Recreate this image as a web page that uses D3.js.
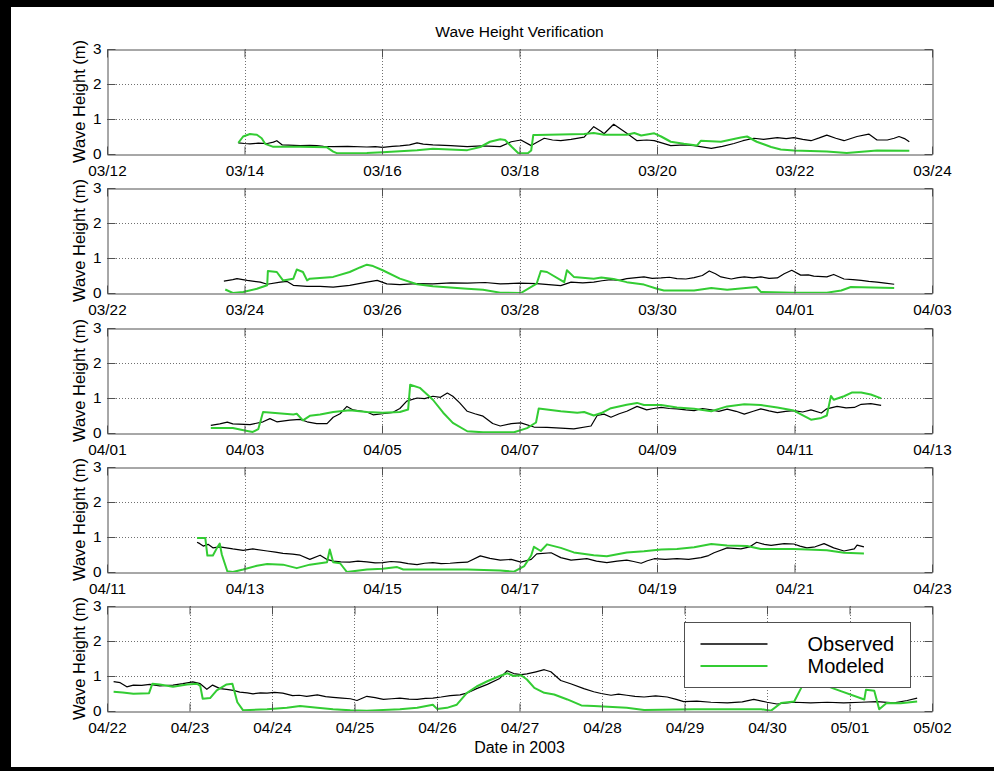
<!DOCTYPE html>
<html>
<head>
<meta charset="utf-8">
<script src="https://cdn.jsdelivr.net/npm/d3@7"></script>
<style>
  html, body { margin: 0; padding: 0; background: #fff; }
  svg { display: block; }
  text { font-family: "Liberation Sans", Arial, Helvetica, sans-serif; fill: #000; }
</style>
</head>
<body>
<svg id="chart" width="994" height="771"></svg>
<script>
// Time values are fractional days counted from 2003-03-01 00:00 UTC.
const panelStarts = ["2003-03-12", "2003-03-22", "2003-04-01", "2003-04-11", "2003-04-22"];
const panelEnds   = ["2003-03-24", "2003-04-03", "2003-04-13", "2003-04-23", "2003-05-02"];
const tickStepDays = [2, 2, 2, 2, 1];
const yTicks = [0, 1, 2, 3];
const seriesNames = ["Observed", "Modeled"];

const observed1 = [[12.91,0.32],[13.00,0.30],[13.08,0.29],[13.20,0.31],[13.33,0.30],[13.42,0.34],[13.47,0.38],[13.55,0.26],[13.81,0.24],[13.95,0.25],[14.05,0.24],[14.15,0.22],[14.29,0.21],[14.50,0.22],[14.78,0.20],[14.90,0.21],[15.01,0.19],[15.15,0.22],[15.26,0.23],[15.40,0.26],[15.51,0.32],[15.60,0.28],[15.74,0.26],[16.00,0.24],[16.24,0.21],[16.45,0.23],[16.72,0.21],[16.88,0.35],[17.02,0.40],[17.17,0.24],[17.36,0.45],[17.48,0.40],[17.60,0.38],[17.75,0.42],[17.94,0.48],[18.08,0.78],[18.19,0.64],[18.23,0.58],[18.37,0.85],[18.56,0.59],[18.71,0.38],[18.85,0.40],[18.96,0.38],[19.20,0.24],[19.40,0.26],[19.54,0.24],[19.79,0.16],[19.95,0.22],[20.12,0.30],[20.25,0.38],[20.41,0.45],[20.55,0.42],[20.75,0.47],[20.88,0.44],[20.99,0.47],[21.12,0.42],[21.24,0.38],[21.36,0.46],[21.47,0.54],[21.60,0.45],[21.72,0.38],[21.91,0.50],[22.08,0.57],[22.20,0.40],[22.35,0.40],[22.45,0.45],[22.52,0.50],[22.60,0.44],[22.67,0.35]];
const modeled1 = [[12.91,0.32],[12.98,0.50],[13.08,0.57],[13.18,0.55],[13.25,0.45],[13.30,0.29],[13.41,0.21],[13.81,0.21],[14.20,0.19],[14.29,0.07],[14.35,0.02],[14.78,0.03],[15.01,0.05],[15.51,0.11],[15.74,0.15],[16.24,0.11],[16.43,0.20],[16.57,0.35],[16.72,0.42],[16.79,0.40],[16.89,0.20],[16.98,0.03],[17.12,0.02],[17.17,0.10],[17.20,0.54],[17.25,0.54],[17.94,0.57],[18.08,0.60],[18.23,0.55],[18.56,0.55],[18.67,0.60],[18.77,0.53],[18.96,0.59],[19.06,0.50],[19.20,0.35],[19.39,0.29],[19.58,0.24],[19.64,0.38],[19.93,0.35],[20.22,0.47],[20.31,0.50],[20.45,0.35],[20.66,0.20],[20.80,0.13],[20.99,0.10],[21.47,0.07],[21.76,0.03],[22.20,0.10],[22.67,0.09]];

const observed2 = [[22.70,0.34],[22.83,0.38],[22.89,0.41],[23.04,0.36],[23.23,0.31],[23.33,0.25],[23.52,0.31],[23.62,0.33],[23.71,0.22],[23.91,0.19],[24.10,0.19],[24.29,0.17],[24.53,0.22],[24.78,0.31],[24.93,0.36],[25.07,0.26],[25.26,0.24],[25.50,0.27],[25.74,0.26],[26.00,0.29],[26.24,0.28],[26.50,0.30],[26.72,0.26],[27.00,0.28],[27.25,0.27],[27.60,0.21],[27.75,0.31],[27.92,0.29],[28.08,0.31],[28.20,0.35],[28.33,0.38],[28.45,0.36],[28.56,0.41],[28.70,0.44],[28.81,0.46],[28.93,0.42],[29.06,0.43],[29.18,0.45],[29.29,0.41],[29.42,0.40],[29.54,0.44],[29.66,0.50],[29.76,0.63],[29.85,0.55],[29.93,0.46],[30.08,0.40],[30.18,0.44],[30.27,0.46],[30.40,0.43],[30.51,0.46],[30.63,0.42],[30.75,0.43],[30.85,0.55],[30.96,0.65],[31.09,0.51],[31.20,0.52],[31.28,0.48],[31.47,0.46],[31.57,0.53],[31.72,0.40],[31.85,0.38],[31.97,0.36],[32.08,0.33],[32.20,0.31],[32.32,0.28],[32.45,0.25]];
const modeled2 = [[22.72,0.10],[22.83,0.00],[22.98,0.03],[23.18,0.12],[23.33,0.22],[23.34,0.63],[23.47,0.60],[23.56,0.36],[23.71,0.41],[23.76,0.67],[23.85,0.60],[23.91,0.36],[23.95,0.41],[24.29,0.46],[24.53,0.60],[24.68,0.73],[24.78,0.81],[24.87,0.77],[25.01,0.65],[25.26,0.41],[25.51,0.25],[25.74,0.19],[26.24,0.12],[26.47,0.09],[26.72,0.01],[27.02,0.00],[27.25,0.27],[27.31,0.63],[27.40,0.60],[27.65,0.31],[27.69,0.65],[27.79,0.46],[28.08,0.41],[28.19,0.44],[28.37,0.40],[28.56,0.31],[28.81,0.24],[29.00,0.12],[29.10,0.07],[29.54,0.07],[29.79,0.14],[30.02,0.09],[30.45,0.17],[30.51,0.03],[30.99,0.01],[31.47,0.01],[31.68,0.07],[31.82,0.17],[32.45,0.14]];

const observed3 = [[32.51,0.22],[32.64,0.26],[32.75,0.31],[32.83,0.26],[33.08,0.24],[33.27,0.32],[33.37,0.41],[33.47,0.32],[33.66,0.37],[33.81,0.39],[33.91,0.32],[34.05,0.27],[34.20,0.27],[34.29,0.45],[34.39,0.55],[34.49,0.76],[34.58,0.66],[34.78,0.60],[34.87,0.52],[35.01,0.55],[35.16,0.59],[35.26,0.70],[35.36,0.91],[35.51,1.00],[35.62,0.98],[35.74,1.05],[35.85,1.02],[35.95,1.14],[36.03,1.05],[36.13,0.86],[36.24,0.62],[36.35,0.55],[36.47,0.48],[36.61,0.27],[36.72,0.20],[36.88,0.27],[37.02,0.29],[37.21,0.17],[37.40,0.16],[37.60,0.14],[37.79,0.12],[38.04,0.20],[38.13,0.50],[38.23,0.54],[38.33,0.45],[38.45,0.55],[38.56,0.62],[38.71,0.76],[38.85,0.66],[38.95,0.70],[39.06,0.73],[39.18,0.70],[39.29,0.69],[39.42,0.66],[39.54,0.64],[39.66,0.70],[39.79,0.66],[39.90,0.62],[40.02,0.68],[40.15,0.62],[40.27,0.54],[40.40,0.62],[40.51,0.69],[40.63,0.63],[40.75,0.58],[40.87,0.62],[40.99,0.64],[41.12,0.60],[41.24,0.66],[41.39,0.57],[41.47,0.69],[41.62,0.76],[41.75,0.72],[41.87,0.73],[41.97,0.82],[42.11,0.84],[42.26,0.79]];
const modeled3 = [[32.51,0.14],[32.83,0.14],[33.04,0.06],[33.12,0.03],[33.20,0.11],[33.27,0.60],[33.71,0.53],[33.76,0.55],[33.85,0.36],[33.95,0.49],[34.10,0.53],[34.29,0.60],[34.53,0.65],[34.78,0.60],[35.01,0.58],[35.26,0.60],[35.38,0.67],[35.41,1.38],[35.55,1.29],[35.74,0.95],[35.89,0.58],[36.03,0.29],[36.24,0.05],[36.47,0.02],[36.72,0.02],[36.92,0.02],[37.11,0.14],[37.24,0.30],[37.28,0.70],[37.60,0.62],[37.84,0.58],[37.94,0.60],[38.08,0.50],[38.19,0.57],[38.33,0.71],[38.56,0.81],[38.71,0.86],[38.81,0.80],[39.06,0.80],[39.29,0.73],[39.54,0.69],[39.79,0.62],[40.02,0.76],[40.27,0.82],[40.51,0.80],[40.75,0.73],[40.99,0.64],[41.24,0.38],[41.39,0.43],[41.47,0.50],[41.53,1.06],[41.57,0.95],[41.72,1.05],[41.84,1.16],[41.97,1.16],[42.11,1.10],[42.26,0.99]];

const observed4 = [[42.31,0.85],[42.35,0.81],[42.40,0.74],[42.47,0.79],[42.54,0.69],[42.64,0.72],[42.83,0.66],[42.98,0.62],[43.12,0.66],[43.33,0.60],[43.45,0.57],[43.56,0.53],[43.70,0.51],[43.81,0.48],[43.95,0.36],[44.10,0.48],[44.20,0.36],[44.29,0.31],[44.40,0.29],[44.53,0.28],[44.65,0.31],[44.78,0.29],[44.90,0.26],[45.01,0.27],[45.13,0.30],[45.26,0.28],[45.38,0.24],[45.51,0.21],[45.62,0.25],[45.74,0.27],[45.86,0.24],[45.99,0.25],[46.10,0.27],[46.24,0.28],[46.43,0.46],[46.57,0.39],[46.72,0.34],[46.88,0.36],[47.02,0.28],[47.17,0.36],[47.25,0.52],[47.46,0.55],[47.60,0.41],[47.75,0.34],[47.87,0.36],[47.98,0.38],[48.12,0.31],[48.27,0.27],[48.42,0.31],[48.56,0.34],[48.66,0.30],[48.77,0.25],[48.86,0.32],[48.96,0.38],[49.12,0.36],[49.29,0.38],[49.46,0.36],[49.64,0.41],[49.75,0.47],[49.83,0.55],[50.02,0.69],[50.22,0.66],[50.35,0.72],[50.45,0.85],[50.56,0.79],[50.66,0.76],[50.85,0.81],[50.99,0.80],[51.08,0.74],[51.18,0.69],[51.30,0.72],[51.43,0.81],[51.57,0.69],[51.72,0.60],[51.87,0.66],[51.91,0.77],[52.01,0.72]];
const modeled4 = [[42.31,0.97],[42.43,0.97],[42.46,0.47],[42.54,0.47],[42.60,0.69],[42.64,0.81],[42.67,0.50],[42.75,0.02],[42.83,0.00],[42.98,0.07],[43.18,0.18],[43.33,0.23],[43.56,0.21],[43.76,0.11],[43.95,0.21],[44.20,0.28],[44.24,0.64],[44.29,0.28],[44.39,0.25],[44.49,0.00],[44.78,0.07],[45.01,0.09],[45.22,0.14],[45.31,0.07],[45.74,0.07],[46.24,0.07],[46.72,0.04],[46.92,0.01],[47.07,0.17],[47.17,0.47],[47.21,0.72],[47.31,0.60],[47.40,0.79],[47.60,0.69],[47.79,0.56],[48.08,0.48],[48.27,0.45],[48.56,0.56],[48.81,0.59],[49.06,0.64],[49.29,0.66],[49.54,0.71],[49.79,0.80],[50.02,0.76],[50.31,0.74],[50.51,0.66],[50.99,0.66],[51.47,0.62],[51.72,0.55],[52.01,0.53]];

const observed5 = [[52.08,0.84],[52.16,0.81],[52.24,0.69],[52.32,0.74],[52.42,0.73],[52.52,0.76],[52.64,0.72],[52.80,0.74],[52.92,0.78],[53.04,0.83],[53.13,0.78],[53.21,0.62],[53.28,0.74],[53.37,0.64],[53.45,0.62],[53.53,0.59],[53.61,0.54],[53.70,0.52],[53.77,0.49],[53.86,0.52],[53.94,0.51],[54.03,0.53],[54.13,0.51],[54.25,0.44],[54.33,0.45],[54.42,0.42],[54.55,0.46],[54.65,0.41],[54.74,0.39],[54.85,0.37],[54.95,0.35],[55.03,0.30],[55.15,0.42],[55.25,0.38],[55.35,0.33],[55.45,0.35],[55.55,0.37],[55.66,0.34],[55.76,0.33],[55.86,0.36],[55.95,0.37],[56.05,0.40],[56.16,0.44],[56.28,0.46],[56.36,0.51],[56.48,0.64],[56.61,0.76],[56.76,0.93],[56.85,1.15],[56.93,1.07],[57.02,1.04],[57.09,1.06],[57.20,1.12],[57.30,1.18],[57.38,1.12],[57.50,0.87],[57.62,0.78],[57.78,0.64],[57.90,0.55],[57.99,0.50],[58.11,0.45],[58.20,0.48],[58.30,0.45],[58.40,0.42],[58.51,0.40],[58.65,0.43],[58.79,0.40],[58.90,0.33],[58.99,0.27],[59.15,0.28],[59.32,0.25],[59.52,0.23],[59.70,0.26],[59.84,0.33],[60.00,0.25],[60.12,0.20],[60.33,0.25],[60.53,0.23],[60.73,0.25],[60.93,0.23],[61.14,0.25],[61.33,0.27],[61.54,0.23],[61.70,0.30],[61.82,0.37]];
const modeled5 = [[52.08,0.55],[52.19,0.53],[52.32,0.49],[52.51,0.51],[52.55,0.78],[52.64,0.76],[52.80,0.69],[52.97,0.76],[53.09,0.78],[53.13,0.72],[53.16,0.35],[53.25,0.37],[53.33,0.59],[53.45,0.76],[53.52,0.78],[53.58,0.25],[53.65,0.02],[53.94,0.05],[54.18,0.09],[54.34,0.14],[54.55,0.09],[54.74,0.05],[54.95,0.02],[55.15,0.01],[55.55,0.05],[55.76,0.09],[55.95,0.18],[56.00,0.06],[56.12,0.09],[56.24,0.18],[56.36,0.51],[56.48,0.70],[56.61,0.85],[56.76,1.00],[56.85,1.08],[56.93,1.00],[57.02,1.02],[57.09,0.90],[57.18,0.66],[57.30,0.52],[57.42,0.47],[57.58,0.33],[57.75,0.16],[57.90,0.14],[58.30,0.09],[58.51,0.03],[59.12,0.05],[59.52,0.05],[59.93,0.05],[60.05,0.01],[60.17,0.23],[60.33,0.27],[60.41,0.64],[60.47,0.95],[60.58,0.85],[60.81,0.64],[61.18,0.33],[61.20,0.61],[61.30,0.58],[61.36,0.05],[61.45,0.23],[61.62,0.22],[61.82,0.27]];

const observedSeries = [observed1, observed2, observed3, observed4, observed5];
const modeledSeries  = [modeled1, modeled2, modeled3, modeled4, modeled5];

// Layout
const W = 994, H = 771;
const plotLeft = 107, plotRight = 932;
const firstTop = 49, panelStep = 139.25, panelH = 105;
const axisColor = "#505050", gridColor = "#707070";
const obsColor = "#000000", modColor = "#33cc33";
const tickLen = 8;

const DAY0 = Date.UTC(2003, 2, 1);
const toDate = d => new Date(DAY0 + d * 864e5);
const parseDay = s => d3.utcParse("%Y-%m-%d")(s);
const fmt = d3.utcFormat("%m/%d");

const svg = d3.select("#chart");
svg.append("rect").attr("width", W).attr("height", H).attr("fill", "#fff");

// Black frame along the left, top and bottom edges
svg.append("rect").attr("x", 0).attr("y", 0).attr("width", 11).attr("height", H).attr("fill", "#000");
svg.append("rect").attr("x", 0).attr("y", 0).attr("width", W).attr("height", 7).attr("fill", "#000");
svg.append("rect").attr("x", 0).attr("y", 767).attr("width", W).attr("height", 4).attr("fill", "#000");

svg.append("text")
  .attr("x", (plotLeft + plotRight) / 2).attr("y", 37)
  .attr("text-anchor", "middle").attr("font-size", 15.5)
  .text("Wave Height Verification");

panelStarts.forEach((s, i) => {
  const top = Math.round(firstTop + i * panelStep);
  const bottom = top + panelH;
  const start = parseDay(s), end = parseDay(panelEnds[i]);
  const nDays = d3.utcDay.count(start, end);
  const tickDates = d3.range(0, nDays + 1, tickStepDays[i]).map(k => d3.utcDay.offset(start, k));

  const x = d3.scaleUtc().domain([start, end]).range([plotLeft, plotRight]);
  const y = d3.scaleLinear().domain([0, 3]).range([bottom, top]);

  const g = svg.append("g").attr("class", "panel");
  const clipId = "clip" + i;
  g.append("clipPath").attr("id", clipId).append("rect")
    .attr("x", plotLeft).attr("y", top).attr("width", plotRight - plotLeft).attr("height", panelH);

  // Dotted grid
  const grid = g.append("g").attr("stroke", gridColor).attr("stroke-width", 1).attr("stroke-dasharray", "1,2");
  tickDates.slice(1, -1).forEach(t => {
    const px = Math.round(x(t)) + 0.5;
    grid.append("line").attr("x1", px).attr("x2", px).attr("y1", top).attr("y2", bottom);
  });
  yTicks.slice(1, -1).forEach(v => {
    const py = Math.round(y(v)) + 0.5;
    grid.append("line").attr("x1", plotLeft).attr("x2", plotRight).attr("y1", py).attr("y2", py);
  });

  // Series
  const line = d3.line().x(d => x(toDate(d[0]))).y(d => y(d[1]));
  const lines = g.append("g").attr("clip-path", `url(#${clipId})`).attr("fill", "none").attr("stroke-linejoin", "round");
  lines.append("path").datum(observedSeries[i]).attr("d", line)
    .attr("stroke", obsColor).attr("stroke-width", 1.2);
  lines.append("path").datum(modeledSeries[i]).attr("d", line)
    .attr("stroke", modColor).attr("stroke-width", 2);

  // Axes, ticks pointing inward on all four sides
  const styleAxis = sel => {
    sel.selectAll(".domain").attr("stroke", axisColor);
    sel.selectAll(".tick line").attr("stroke", axisColor);
    sel.attr("font-family", null).attr("font-size", 15.3);
  };
  g.append("g").attr("transform", `translate(0,${bottom + 0.5})`)
    .call(d3.axisBottom(x).tickValues(tickDates).tickFormat(fmt).tickSizeInner(-tickLen).tickSizeOuter(0).tickPadding(10.5))
    .call(styleAxis);
  g.append("g").attr("transform", `translate(0,${top + 0.5})`)
    .call(d3.axisTop(x).tickValues(tickDates).tickFormat("").tickSizeInner(-tickLen).tickSizeOuter(0))
    .call(styleAxis);
  g.append("g").attr("transform", `translate(${plotLeft + 0.5},0)`)
    .call(d3.axisLeft(y).tickValues(yTicks).tickFormat(d3.format("d")).tickSizeInner(-tickLen).tickSizeOuter(0).tickPadding(6))
    .call(styleAxis);
  g.append("g").attr("transform", `translate(${plotRight + 0.5},0)`)
    .call(d3.axisRight(y).tickValues(yTicks).tickFormat("").tickSizeInner(-tickLen).tickSizeOuter(0))
    .call(styleAxis);

  g.append("text")
    .attr("transform", `translate(85,${(top + bottom) / 2}) rotate(-90)`)
    .attr("text-anchor", "middle").attr("font-size", 16.5)
    .text("Wave Height (m)");

  if (i === panelStarts.length - 1) {
    svg.append("text")
      .attr("x", (plotLeft + plotRight) / 2).attr("y", 753)
      .attr("text-anchor", "middle").attr("font-size", 16)
      .text("Date in 2003");

    // Legend
    const lg = svg.append("g").attr("transform", "translate(684.5,622.5)");
    lg.append("rect").attr("width", 226).attr("height", 65)
      .attr("fill", "#fff").attr("stroke", axisColor).attr("stroke-width", 1);
    [obsColor, modColor].forEach((c, k) => {
      const ly = 21.5 + k * 22;
      lg.append("line").attr("x1", 16).attr("x2", 83).attr("y1", ly).attr("y2", ly)
        .attr("stroke", c).attr("stroke-width", k === 0 ? 1.5 : 2);
      lg.append("text").attr("x", 123).attr("y", ly + 7).attr("font-size", 20).text(seriesNames[k]);
    });
  }
});
</script>
</body>
</html>
